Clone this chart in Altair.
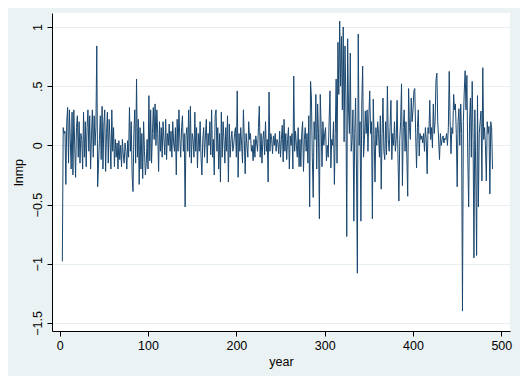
import altair as alt
import pandas as pd

first_year = 3
lnmp = [
    -0.98, 0.15, 0.10, 0.12, -0.33, 0.20, 0.32, -0.15, 0.30, 0.05,
    -0.20, 0.28, -0.25, 0.30, 0.00, -0.27, 0.15, 0.25, -0.10, 0.20,
    -0.15, 0.10, 0.05, -0.20, 0.28, -0.10, 0.20, -0.18, 0.15, 0.30,
    -0.05, 0.25, -0.20, 0.08, 0.30, -0.10, 0.25, 0.00, 0.15, 0.84,
    -0.35, -0.15, 0.05, 0.25, -0.12, 0.33, -0.20, 0.18, 0.30, -0.22,
    0.10, 0.28, -0.15, 0.22, 0.05, -0.20, 0.30, -0.05, 0.15, -0.18,
    0.05, -0.10, 0.02, -0.20, 0.04, -0.12, 0.00, -0.18, 0.05, -0.08,
    -0.15, 0.02, -0.05, -0.20, 0.04, -0.10, 0.32, -0.05, 0.20, -0.25,
    -0.39, 0.10, 0.30, -0.15, 0.56, -0.10, 0.22, -0.33, 0.15, -0.20,
    0.10, -0.28, 0.20, -0.05, -0.25, -0.15, 0.05, -0.20, 0.42, -0.13,
    0.30, -0.15, 0.10, 0.32, 0.05, 0.35, 0.00, 0.30, 0.10, -0.22,
    0.20, -0.05, 0.15, -0.10, 0.20, 0.05, -0.08, 0.22, -0.12, 0.10,
    0.00, 0.18, -0.05, 0.12, -0.10, 0.20, 0.02, -0.05, 0.15, -0.25,
    0.22, -0.05, 0.30, 0.05, -0.10, 0.15, 0.25, -0.05, 0.10, -0.52,
    0.08, 0.15, -0.05, 0.30, -0.10, 0.33, -0.15, 0.10, 0.05, -0.10,
    0.28, -0.05, 0.15, -0.19, 0.10, -0.05, 0.20, -0.10, -0.25, 0.05,
    0.15, -0.10, 0.08, 0.22, -0.15, 0.10, 0.00, 0.20, -0.08, 0.30,
    -0.10, 0.05, -0.25, 0.25, 0.30, -0.05, 0.15, -0.20, 0.10, -0.31,
    0.28, -0.10, 0.20, 0.05, -0.15, 0.15, -0.05, 0.25, -0.31, 0.18,
    -0.10, 0.05, 0.12, -0.05, 0.00, 0.10, 0.15, -0.10, 0.46, -0.27,
    0.10, -0.05, 0.15, 0.00, -0.15, 0.30, 0.05, -0.24, 0.10, 0.00,
    -0.10, 0.20, 0.05, 0.10, -0.05, 0.00, -0.13, 0.05, -0.10, 0.08,
    0.02, -0.05, 0.15, 0.33, -0.10, 0.10, -0.15, 0.05, 0.12, -0.08,
    0.20, -0.05, 0.05, -0.31, 0.45, -0.05, 0.10, 0.05, -0.07, 0.08,
    0.00, 0.10, -0.05, 0.05, 0.02, -0.07, 0.12, -0.10, 0.05, 0.17,
    -0.14, 0.22, -0.05, 0.10, -0.12, 0.05, 0.15, -0.20, 0.08, 0.00,
    0.10, -0.20, 0.585, -0.05, 0.12, 0.00, -0.10, 0.15, -0.18, 0.05,
    -0.18, 0.10, 0.20, -0.22, 0.05, 0.15, -0.05, 0.10, -0.15, 0.25,
    -0.52, 0.54, 0.40, -0.10, -0.44, 0.20, 0.05, 0.43, -0.20, 0.35,
    0.10, -0.62, 0.43, 0.15, -0.18, 0.20, 0.00, 0.10, 0.15, -0.13,
    0.00, -0.10, 0.20, 0.46, -0.19, 0.05, 0.00, 0.20, -0.33, 0.10,
    0.56, -0.15, 0.87, 0.43, 1.05, 0.50, 0.92, 0.30, 1.00, 0.03,
    0.84, 0.40, -0.77, 0.90, 0.30, 0.10, 0.78, -0.05, 0.05, 0.30,
    -0.64, 0.10, 0.40, -0.20, -1.08, 0.94, 0.00, 0.20, -0.64, 0.35,
    0.67, -0.10, 0.05, 0.29, 0.10, 0.30, -0.05, 0.25, 0.46, 0.10,
    0.20, -0.62, 0.39, 0.05, -0.31, 0.15, 0.00, 0.20, 0.10, -0.10,
    0.25, -0.37, 0.10, 0.40, -0.05, -0.12, 0.20, -0.08, 0.50, 0.05,
    -0.05, 0.15, 0.38, -0.12, 0.10, 0.00, 0.20, -0.05, 0.05, 0.38,
    -0.10, -0.47, 0.05, 0.20, 0.52, -0.34, 0.15, 0.30, -0.05, 0.20,
    -0.10, -0.43, 0.48, 0.15, 0.05, 0.40, 0.20, 0.30, 0.46, 0.48,
    0.10, -0.19, 0.15, 0.30, -0.09, 0.10, 0.05, 0.08, 0.02, 0.10,
    -0.05, 0.15, 0.05, -0.24, 0.15, 0.10, 0.38, 0.05, 0.15, -0.02,
    0.35, 0.10, 0.20, 0.55, 0.61, 0.20, 0.05, -0.12, 0.10, 0.00,
    0.05, 0.08, 0.02, 0.06, 0.05, 0.10, 0.00, 0.15, 0.625, 0.20,
    -0.07, 0.15, 0.10, 0.43, 0.30, 0.35, 0.10, -0.35, 0.20, 0.31,
    0.00, 0.35, 0.10, -1.40, 0.20, 0.45, 0.63, 0.30, 0.59, -0.10,
    -0.52, 0.20, 0.40, -0.10, 0.54, 0.05, -0.95, 0.30, -0.20, -0.93,
    0.42, -0.52, 0.10, 0.20, 0.29, -0.30, 0.656, 0.05, 0.15, 0.00,
    -0.30, 0.20, 0.10, 0.16, -0.41, 0.20, 0.15, -0.20,
]
years = list(range(first_year, first_year + len(lnmp)))

x_ticks = [0, 100, 200, 300, 400, 500]
y_ticks = [-1.5, -1, -0.5, 0, 0.5, 1]

df = pd.DataFrame({"year": years, "lnmp": lnmp})

font = "Liberation Sans"
ylabel_expr = "datum.value == 0 ? '0' : replace(format(datum.value, '.1~f'), /^(-?)0\\./, '$1.')"

chart = (
    alt.Chart(df)
    .mark_line(color="#1A476F", strokeWidth=1)
    .encode(
        x=alt.X(
            "year:Q",
            scale=alt.Scale(domain=[-8.7, 509.8], nice=False, zero=False),
            axis=alt.Axis(
                values=x_ticks, title="year", grid=False, format="d",
                tickSize=5, labelPadding=3, titlePadding=4,
            ),
        ),
        y=alt.Y(
            "lnmp:Q",
            scale=alt.Scale(domain=[-1.568, 1.118], nice=False, zero=False),
            axis=alt.Axis(
                values=y_ticks, title="lnmp", grid=True, labelExpr=ylabel_expr,
                labelAngle=270, labelAlign="center", labelBaseline="bottom",
                tickSize=5, labelPadding=3, titlePadding=6,
            ),
        ),
    )
    .properties(
        width=458,
        height=318,
        autosize=alt.AutoSizeParams(type="none"),
        padding={"left": 44, "top": 5, "right": 10, "bottom": 45},
    )
    .configure(background="#EAF2F3")
    .configure_view(fill="white", stroke=None)
    .configure_axis(
        labelFont=font, titleFont=font, labelFontSize=12.5, titleFontSize=12.5,
        labelColor="black", titleColor="black", titleFontWeight="normal",
        domainColor="black", tickColor="black", domainWidth=1, tickWidth=1,
        gridColor="#E8EFF1", gridWidth=1,
    )
)

chart.save("out.html", embed_options={"renderer": "svg", "actions": False})
